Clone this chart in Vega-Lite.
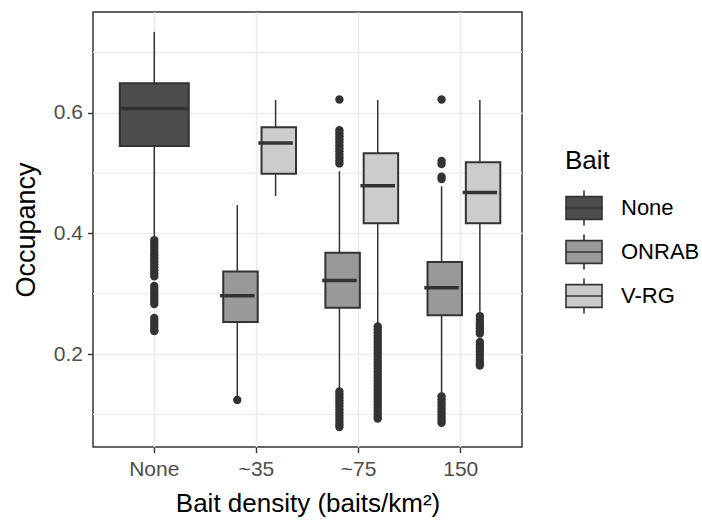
{
  "$schema": "https://vega.github.io/schema/vega-lite/v6.json",
  "width": 429,
  "height": 435,
  "autosize": {"type": "none"},
  "padding": {"left": 93, "top": 12, "right": 180, "bottom": 77},
  "background": "white",
  "config": {
    "font": "Liberation Sans",
    "view": {"stroke": "#333333", "strokeWidth": 1.5},
    "axis": {"gridColor": "#ebebeb", "gridWidth": 1.6, "domain": false, "tickColor": "#333333", "tickWidth": 1.4, "tickSize": 5.5, "labelColor": "#4d4d4d", "labelFontSize": 21, "titleFontSize": 27, "titleColor": "#000000", "titleFontWeight": "normal"},
    "legend": {"orient": "none", "legendX": 472, "legendY": 136, "symbolType": "M-1,-0.63L1,-0.63L1,0.63L-1,0.63Z M0,-0.63L0,-0.97 M0,0.63L0,0.97 M-1,0L1,0", "symbolSize": 1296, "symbolStrokeColor": "#333333", "symbolStrokeWidth": 1.6, "symbolFillOpacity": 1, "labelFontSize": 22, "labelColor": "#000000", "titleFontSize": 26, "titleFontWeight": "normal", "titleColor": "#000000", "rowPadding": 2, "titlePadding": 15, "padding": 0, "labelOffset": 18}
  },
  "datasets": {
    "minor": [{"v": 0.1}, {"v": 0.3}, {"v": 0.5}, {"v": 0.7}],
    "stats": [
      {"dens": "None", "bait": "None", "lo": 0.395, "q1": 0.545, "med": 0.607, "q3": 0.649, "hi": 0.734},
      {"dens": "~35", "bait": "ONRAB", "lo": 0.13, "q1": 0.253, "med": 0.2965, "q3": 0.337, "hi": 0.447},
      {"dens": "~35", "bait": "V-RG", "lo": 0.462, "q1": 0.499, "med": 0.55, "q3": 0.576, "hi": 0.621},
      {"dens": "~75", "bait": "ONRAB", "lo": 0.142, "q1": 0.277, "med": 0.322, "q3": 0.368, "hi": 0.503},
      {"dens": "~75", "bait": "V-RG", "lo": 0.25, "q1": 0.417, "med": 0.479, "q3": 0.533, "hi": 0.621},
      {"dens": "150", "bait": "ONRAB", "lo": 0.135, "q1": 0.2645, "med": 0.31, "q3": 0.3527, "hi": 0.478},
      {"dens": "150", "bait": "V-RG", "lo": 0.27, "q1": 0.417, "med": 0.468, "q3": 0.518, "hi": 0.621}
    ],
    "outliers": [
      {"dens": "None", "bait": "None", "v": 0.389}, {"dens": "None", "bait": "None", "v": 0.384}, {"dens": "None", "bait": "None", "v": 0.379}, {"dens": "None", "bait": "None", "v": 0.374}, {"dens": "None", "bait": "None", "v": 0.369}, {"dens": "None", "bait": "None", "v": 0.364}, {"dens": "None", "bait": "None", "v": 0.359}, {"dens": "None", "bait": "None", "v": 0.354}, {"dens": "None", "bait": "None", "v": 0.349}, {"dens": "None", "bait": "None", "v": 0.344}, {"dens": "None", "bait": "None", "v": 0.339}, {"dens": "None", "bait": "None", "v": 0.334}, {"dens": "None", "bait": "None", "v": 0.329},
      {"dens": "None", "bait": "None", "v": 0.313}, {"dens": "None", "bait": "None", "v": 0.308}, {"dens": "None", "bait": "None", "v": 0.303}, {"dens": "None", "bait": "None", "v": 0.298}, {"dens": "None", "bait": "None", "v": 0.293}, {"dens": "None", "bait": "None", "v": 0.288}, {"dens": "None", "bait": "None", "v": 0.283},
      {"dens": "None", "bait": "None", "v": 0.26}, {"dens": "None", "bait": "None", "v": 0.255}, {"dens": "None", "bait": "None", "v": 0.25}, {"dens": "None", "bait": "None", "v": 0.245}, {"dens": "None", "bait": "None", "v": 0.24}, {"dens": "None", "bait": "None", "v": 0.238},
      {"dens": "~35", "bait": "ONRAB", "v": 0.124},
      {"dens": "~75", "bait": "ONRAB", "v": 0.622}, {"dens": "~75", "bait": "ONRAB", "v": 0.571}, {"dens": "~75", "bait": "ONRAB", "v": 0.566}, {"dens": "~75", "bait": "ONRAB", "v": 0.561}, {"dens": "~75", "bait": "ONRAB", "v": 0.556}, {"dens": "~75", "bait": "ONRAB", "v": 0.551}, {"dens": "~75", "bait": "ONRAB", "v": 0.546}, {"dens": "~75", "bait": "ONRAB", "v": 0.541}, {"dens": "~75", "bait": "ONRAB", "v": 0.536}, {"dens": "~75", "bait": "ONRAB", "v": 0.531}, {"dens": "~75", "bait": "ONRAB", "v": 0.526}, {"dens": "~75", "bait": "ONRAB", "v": 0.521}, {"dens": "~75", "bait": "ONRAB", "v": 0.516},
      {"dens": "~75", "bait": "ONRAB", "v": 0.138}, {"dens": "~75", "bait": "ONRAB", "v": 0.133}, {"dens": "~75", "bait": "ONRAB", "v": 0.128}, {"dens": "~75", "bait": "ONRAB", "v": 0.123}, {"dens": "~75", "bait": "ONRAB", "v": 0.118}, {"dens": "~75", "bait": "ONRAB", "v": 0.113}, {"dens": "~75", "bait": "ONRAB", "v": 0.108}, {"dens": "~75", "bait": "ONRAB", "v": 0.103}, {"dens": "~75", "bait": "ONRAB", "v": 0.098}, {"dens": "~75", "bait": "ONRAB", "v": 0.093}, {"dens": "~75", "bait": "ONRAB", "v": 0.088}, {"dens": "~75", "bait": "ONRAB", "v": 0.083}, {"dens": "~75", "bait": "ONRAB", "v": 0.079},
      {"dens": "~75", "bait": "V-RG", "v": 0.246}, {"dens": "~75", "bait": "V-RG", "v": 0.241}, {"dens": "~75", "bait": "V-RG", "v": 0.236}, {"dens": "~75", "bait": "V-RG", "v": 0.231}, {"dens": "~75", "bait": "V-RG", "v": 0.226}, {"dens": "~75", "bait": "V-RG", "v": 0.221}, {"dens": "~75", "bait": "V-RG", "v": 0.216}, {"dens": "~75", "bait": "V-RG", "v": 0.211}, {"dens": "~75", "bait": "V-RG", "v": 0.206}, {"dens": "~75", "bait": "V-RG", "v": 0.201}, {"dens": "~75", "bait": "V-RG", "v": 0.196}, {"dens": "~75", "bait": "V-RG", "v": 0.191}, {"dens": "~75", "bait": "V-RG", "v": 0.186}, {"dens": "~75", "bait": "V-RG", "v": 0.181}, {"dens": "~75", "bait": "V-RG", "v": 0.176}, {"dens": "~75", "bait": "V-RG", "v": 0.171}, {"dens": "~75", "bait": "V-RG", "v": 0.166}, {"dens": "~75", "bait": "V-RG", "v": 0.161}, {"dens": "~75", "bait": "V-RG", "v": 0.156}, {"dens": "~75", "bait": "V-RG", "v": 0.151}, {"dens": "~75", "bait": "V-RG", "v": 0.146}, {"dens": "~75", "bait": "V-RG", "v": 0.141}, {"dens": "~75", "bait": "V-RG", "v": 0.136}, {"dens": "~75", "bait": "V-RG", "v": 0.131}, {"dens": "~75", "bait": "V-RG", "v": 0.126}, {"dens": "~75", "bait": "V-RG", "v": 0.121}, {"dens": "~75", "bait": "V-RG", "v": 0.116}, {"dens": "~75", "bait": "V-RG", "v": 0.111}, {"dens": "~75", "bait": "V-RG", "v": 0.106}, {"dens": "~75", "bait": "V-RG", "v": 0.101}, {"dens": "~75", "bait": "V-RG", "v": 0.096}, {"dens": "~75", "bait": "V-RG", "v": 0.093},
      {"dens": "150", "bait": "ONRAB", "v": 0.622}, {"dens": "150", "bait": "ONRAB", "v": 0.52}, {"dens": "150", "bait": "ONRAB", "v": 0.515}, {"dens": "150", "bait": "ONRAB", "v": 0.494}, {"dens": "150", "bait": "ONRAB", "v": 0.49},
      {"dens": "150", "bait": "ONRAB", "v": 0.13}, {"dens": "150", "bait": "ONRAB", "v": 0.125}, {"dens": "150", "bait": "ONRAB", "v": 0.12}, {"dens": "150", "bait": "ONRAB", "v": 0.115}, {"dens": "150", "bait": "ONRAB", "v": 0.11}, {"dens": "150", "bait": "ONRAB", "v": 0.105}, {"dens": "150", "bait": "ONRAB", "v": 0.1}, {"dens": "150", "bait": "ONRAB", "v": 0.095}, {"dens": "150", "bait": "ONRAB", "v": 0.09}, {"dens": "150", "bait": "ONRAB", "v": 0.086},
      {"dens": "150", "bait": "V-RG", "v": 0.263}, {"dens": "150", "bait": "V-RG", "v": 0.258}, {"dens": "150", "bait": "V-RG", "v": 0.253}, {"dens": "150", "bait": "V-RG", "v": 0.248}, {"dens": "150", "bait": "V-RG", "v": 0.243}, {"dens": "150", "bait": "V-RG", "v": 0.238}, {"dens": "150", "bait": "V-RG", "v": 0.234},
      {"dens": "150", "bait": "V-RG", "v": 0.22}, {"dens": "150", "bait": "V-RG", "v": 0.215}, {"dens": "150", "bait": "V-RG", "v": 0.21}, {"dens": "150", "bait": "V-RG", "v": 0.205}, {"dens": "150", "bait": "V-RG", "v": 0.2}, {"dens": "150", "bait": "V-RG", "v": 0.195}, {"dens": "150", "bait": "V-RG", "v": 0.19}, {"dens": "150", "bait": "V-RG", "v": 0.185}, {"dens": "150", "bait": "V-RG", "v": 0.181}
    ]
  },
  "layer": [
    {
      "data": {"name": "minor"},
      "mark": {"type": "rule", "color": "#ebebeb", "strokeWidth": 1.2},
      "encoding": {
        "y": {"field": "v", "type": "quantitative", "scale": {"domain": [0.046, 0.767], "nice": false, "zero": false}, "axis": {"title": "Occupancy", "values": [0.2, 0.4, 0.6], "format": ".1f", "labelPadding": 5, "titlePadding": 13}}
      }
    },
    {
      "data": {"name": "stats"},
      "transform": [{"filter": "datum.bait === 'None'"}],
      "layer": [
        {"mark": {"type": "rule", "color": "#333333", "strokeWidth": 1.5}, "encoding": {"y": {"field": "lo", "type": "quantitative"}, "y2": {"field": "hi"}}},
        {"mark": {"type": "bar", "stroke": "#333333", "strokeWidth": 2, "width": {"band": 0.675}}, "encoding": {"y": {"field": "q1", "type": "quantitative"}, "y2": {"field": "q3"}, "fill": {"field": "bait", "type": "nominal", "title": "Bait", "scale": {"domain": ["None", "ONRAB", "V-RG"], "range": ["#4d4d4d", "#999999", "#cccccc"]}}}},
        {"mark": {"type": "tick", "color": "#333333", "size": 69, "thickness": 3.5, "opacity": 1}, "encoding": {"y": {"field": "med", "type": "quantitative"}}}
      ],
      "encoding": {
        "x": {"field": "dens", "type": "nominal", "sort": null, "scale": {"type": "band", "domain": ["None", "~35", "~75", "150"], "paddingInner": 0, "paddingOuter": 0.1}, "axis": {"title": "Bait density (baits/km²)", "titleFontSize": 26, "labelAngle": 0, "labelPadding": 6, "titlePadding": 11, "grid": true}}
      }
    },
    {
      "data": {"name": "stats"},
      "transform": [{"filter": "datum.bait !== 'None'"}],
      "layer": [
        {"mark": {"type": "rule", "color": "#333333", "strokeWidth": 1.5}, "encoding": {"y": {"field": "lo", "type": "quantitative"}, "y2": {"field": "hi"}}},
        {"mark": {"type": "bar", "stroke": "#333333", "strokeWidth": 2, "width": {"band": 0.9}}, "encoding": {"y": {"field": "q1", "type": "quantitative"}, "y2": {"field": "q3"}, "fill": {"field": "bait", "type": "nominal", "title": "Bait", "scale": {"domain": ["None", "ONRAB", "V-RG"], "range": ["#4d4d4d", "#999999", "#cccccc"]}}}},
        {"mark": {"type": "tick", "color": "#333333", "size": 34.5, "thickness": 3.5, "opacity": 1}, "encoding": {"y": {"field": "med", "type": "quantitative"}}}
      ],
      "encoding": {
        "x": {"field": "dens", "type": "nominal", "sort": null, "scale": {"type": "band", "domain": ["None", "~35", "~75", "150"], "paddingInner": 0, "paddingOuter": 0.1}, "axis": {"title": "Bait density (baits/km²)", "titleFontSize": 26, "labelAngle": 0, "labelPadding": 6, "titlePadding": 11, "grid": true}},
        "xOffset": {"field": "bait", "type": "nominal", "scale": {"domain": ["ONRAB", "V-RG"], "paddingInner": 0, "paddingOuter": 0.3333}}
      }
    },
    {
      "data": {"name": "outliers"},
      "transform": [{"filter": "datum.bait === 'None'"}],
      "mark": {"type": "circle", "color": "#333333", "size": 70, "opacity": 1},
      "encoding": {
        "x": {"field": "dens", "type": "nominal", "sort": null, "scale": {"type": "band", "domain": ["None", "~35", "~75", "150"], "paddingInner": 0, "paddingOuter": 0.1}, "axis": {"title": "Bait density (baits/km²)", "titleFontSize": 26, "labelAngle": 0, "labelPadding": 6, "titlePadding": 11, "grid": true}},
        "y": {"field": "v", "type": "quantitative"}
      }
    },
    {
      "data": {"name": "outliers"},
      "transform": [{"filter": "datum.bait !== 'None'"}],
      "mark": {"type": "circle", "color": "#333333", "size": 70, "opacity": 1},
      "encoding": {
        "x": {"field": "dens", "type": "nominal", "sort": null, "scale": {"type": "band", "domain": ["None", "~35", "~75", "150"], "paddingInner": 0, "paddingOuter": 0.1}, "axis": {"title": "Bait density (baits/km²)", "titleFontSize": 26, "labelAngle": 0, "labelPadding": 6, "titlePadding": 11, "grid": true}},
        "xOffset": {"field": "bait", "type": "nominal", "scale": {"domain": ["ONRAB", "V-RG"], "paddingInner": 0, "paddingOuter": 0.3333}},
        "y": {"field": "v", "type": "quantitative"}
      }
    }
  ]
}
